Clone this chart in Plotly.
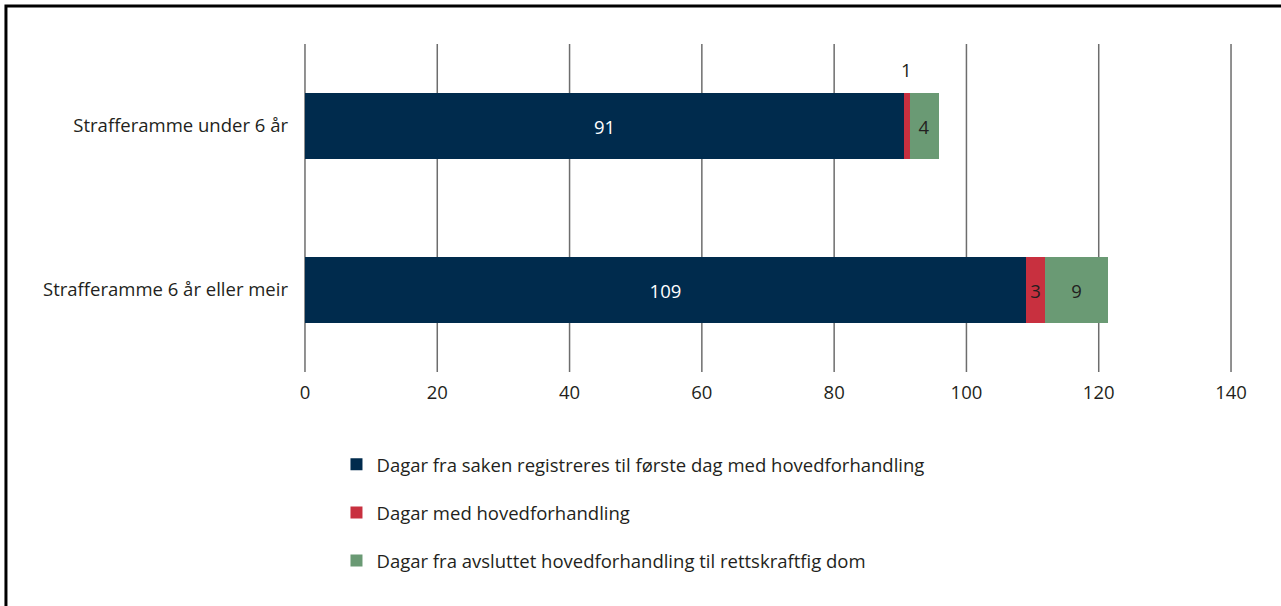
import plotly.graph_objects as go

categories = ["Strafferamme under 6 år", "Strafferamme 6 år eller meir"]
series_names = [
    "Dagar fra saken registreres til første dag med hovedforhandling",
    "Dagar med hovedforhandling",
    "Dagar fra avsluttet hovedforhandling til rettskraftfig dom",
]
before_hearing = [90.6, 109.0]
hearing_days = [0.8, 2.9]
after_hearing = [4.4, 9.5]
label_before = ["91", "109"]
label_hearing = ["1", "3"]
label_after = ["4", "9"]
x_ticks = [0, 20, 40, 60, 80, 100, 120, 140]

colors = ["#002b4d", "#c8303f", "#6a9a74"]
font_family = "Open Sans, Noto Sans, sans-serif"
dark = "#231f20"
fs = 18.5

fig = go.Figure()

# vertical grid lines, drawn as shapes so the ones at 0 and 140 also show
for t in x_ticks:
    fig.add_shape(type="line", xref="x", yref="paper", x0=t, x1=t, y0=0, y1=1,
                  line=dict(color="#6d6d6d", width=1.5), layer="below")

series = [
    (before_hearing, label_before, "#ffffff"),
    (hearing_days, label_hearing, dark),
    (after_hearing, label_after, dark),
]
for i, (vals, labels, tcol) in enumerate(series):
    txt = list(labels)
    if i == 1:
        # the tiny first segment gets its label above the bar instead
        txt = ["" if v < 1.5 else t for v, t in zip(vals, labels)]
    fig.add_trace(go.Bar(
        y=categories, x=vals, orientation="h", name=series_names[i],
        marker=dict(color=colors[i], line=dict(width=0)),
        text=txt, textposition="inside", insidetextanchor="middle",
        textangle=0, constraintext="none",
        textfont=dict(color=tcol, size=fs, family=font_family),
        legendgroup=f"g{i}", hoverinfo="skip",
    ))

# label for narrow hearing segment, placed above the bar
for cat, b, h, lab in zip(categories, before_hearing, hearing_days, label_hearing):
    if h < 1.5:
        fig.add_annotation(x=b + h / 2, y=cat, text=lab, showarrow=False,
                           yshift=57, font=dict(size=fs, color=dark, family=font_family))

# outer frame
fig.add_shape(type="rect", xref="paper", yref="paper",
              x0=-0.3194, x1=1.2, y0=-1.0, y1=1.1159,
              line=dict(color="black", width=3), fillcolor="rgba(0,0,0,0)", layer="above")

fig.update_layout(
    width=1281, height=606,
    barmode="stack", bargap=0.6,
    paper_bgcolor="white", plot_bgcolor="white",
    font=dict(family=font_family, size=fs, color=dark),
    margin=dict(l=303, r=48, t=44, b=234),
    uniformtext=dict(minsize=fs, mode="show"),
    xaxis=dict(range=[-0.3, 140.3], tickvals=x_ticks, showgrid=False,
               zeroline=False, showline=False, ticks="",
               ticklabelstandoff=7, tickfont=dict(size=fs, color=dark)),
    yaxis=dict(categoryorder="array", categoryarray=categories, autorange="reversed",
               showgrid=False, zeroline=False, showline=False, ticks="",
               ticklabelstandoff=14, tickfont=dict(size=fs, color=dark)),
    legend=dict(orientation="v", x=0.036, xanchor="left", y=-0.225, yanchor="top",
                traceorder="grouped", tracegroupgap=21,
                font=dict(size=fs, color=dark, family=font_family),
                itemclick=False, itemdoubleclick=False),
    showlegend=True,
)

fig.write_html("out.html", post_script="document.body.style.margin='0';",
               config={"displayModeBar": False})
